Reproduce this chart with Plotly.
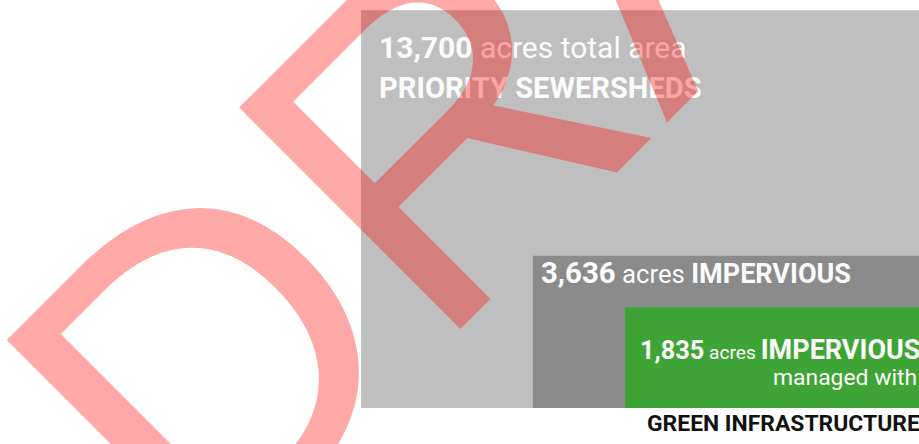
import math
import plotly.graph_objects as go

# ---------------- data ----------------
categories = ["PRIORITY SEWERSHEDS", "IMPERVIOUS", "IMPERVIOUS managed with GREEN INFRASTRUCTURE"]
acres = [13700, 3636, 1835]
acre_labels = ["13,700", "3,636", "1,835"]

# ---------------- style / layout ----------------
W, H = 919, 444
box_colors = ["#bfbfbf", "#8b8b8b", "#3fa436"]
box_aspect = [1.41, 2.556, 2.95]          # width / height of each box
anchor_right, anchor_bottom = 922, 408    # shared bottom-right corner (px)
big_width_px = 561
FONT = "Roboto, 'Liberation Sans', sans-serif"
WHITE = "#fbfbfb"

# area-proportional boxes: one scale for all
scale = big_width_px / math.sqrt(acres[0] * box_aspect[0])
boxes = []
for a, r in zip(acres, box_aspect):
    w = math.sqrt(a * r) * scale
    h = math.sqrt(a / r) * scale
    boxes.append((anchor_right - w, anchor_bottom - h, anchor_right, anchor_bottom))

fig = go.Figure()
fig.add_trace(go.Scatter(x=[0], y=[0], mode="markers", marker=dict(opacity=0),
                         hoverinfo="skip", showlegend=False))

for (x0, y0, x1, y1), c in zip(boxes, box_colors):
    fig.add_shape(type="rect", xref="x", yref="y", x0=x0, y0=y0, x1=x1, y1=y1,
                  fillcolor=c, line=dict(width=0), layer="above")


def sp(txt, size, bold=False):
    s = f'<span style="font-size:{size}px">{txt}</span>'
    return f"<b>{s}</b>" if bold else s


anns = []
bx0, by0 = boxes[0][0], boxes[0][1]
anns.append(dict(x=bx0 + 17, y=by0 + 37.5, xanchor="left", yanchor="middle",
                 text=sp(acre_labels[0], 30, True) + sp(" acres total area", 30),
                 font=dict(family=FONT, size=30, color=WHITE)))
anns.append(dict(x=bx0 + 17, y=by0 + 78, xanchor="left", yanchor="middle",
                 text=sp(categories[0], 29.1, True),
                 font=dict(family=FONT, size=29.1, color=WHITE)))

dx0, dy0 = boxes[1][0], boxes[1][1]
anns.append(dict(x=dx0 + 7, y=dy0 + 17, xanchor="left", yanchor="middle",
                 text=sp(acre_labels[1], 29.4, True) + sp(" acres ", 25.7) + sp(categories[1], 27, True),
                 font=dict(family=FONT, size=29.4, color=WHITE)))

anns.append(dict(x=W, xshift=2, y=anchor_bottom - 58, xanchor="right", yanchor="middle",
                 text=sp(acre_labels[2], 25.3, True) + sp(" acres ", 19.2) + sp("IMPERVIOUS", 27, True),
                 font=dict(family=FONT, size=27, color=WHITE)))
anns.append(dict(x=W, xshift=-1, y=anchor_bottom - 31, xanchor="right", yanchor="middle",
                 text=sp("managed with", 22.9),
                 font=dict(family=FONT, size=22.9, color=WHITE)))
anns.append(dict(x=W, xshift=2, y=anchor_bottom + 15.5, xanchor="right", yanchor="middle",
                 text=sp("GREEN INFRASTRUCTURE", 22.9, True),
                 font=dict(family=FONT, size=22.9, color="#111111")))

for a in anns:
    a.update(xref="x", yref="y", showarrow=False, borderpad=0, align="left")

# DRAFT watermark (paper coordinates, drawn on top)
anns.append(dict(xref="paper", yref="paper", x=626 / W, y=1 + 60 / H,
                 xanchor="center", yanchor="middle", showarrow=False, textangle=-45,
                 text="DRAFT", borderpad=0,
                 font=dict(family="'Liberation Sans', Arial, sans-serif", size=455,
                           color="rgba(255,0,0,0.34)")))

fig.update_layout(
    width=W, height=H, margin=dict(l=0, r=0, t=0, b=0),
    paper_bgcolor="white", plot_bgcolor="white",
    xaxis=dict(range=[0, W], visible=False, fixedrange=True),
    yaxis=dict(range=[H, 0], visible=False, fixedrange=True),
    annotations=anns, showlegend=False,
)

fig.write_html("out.html")
